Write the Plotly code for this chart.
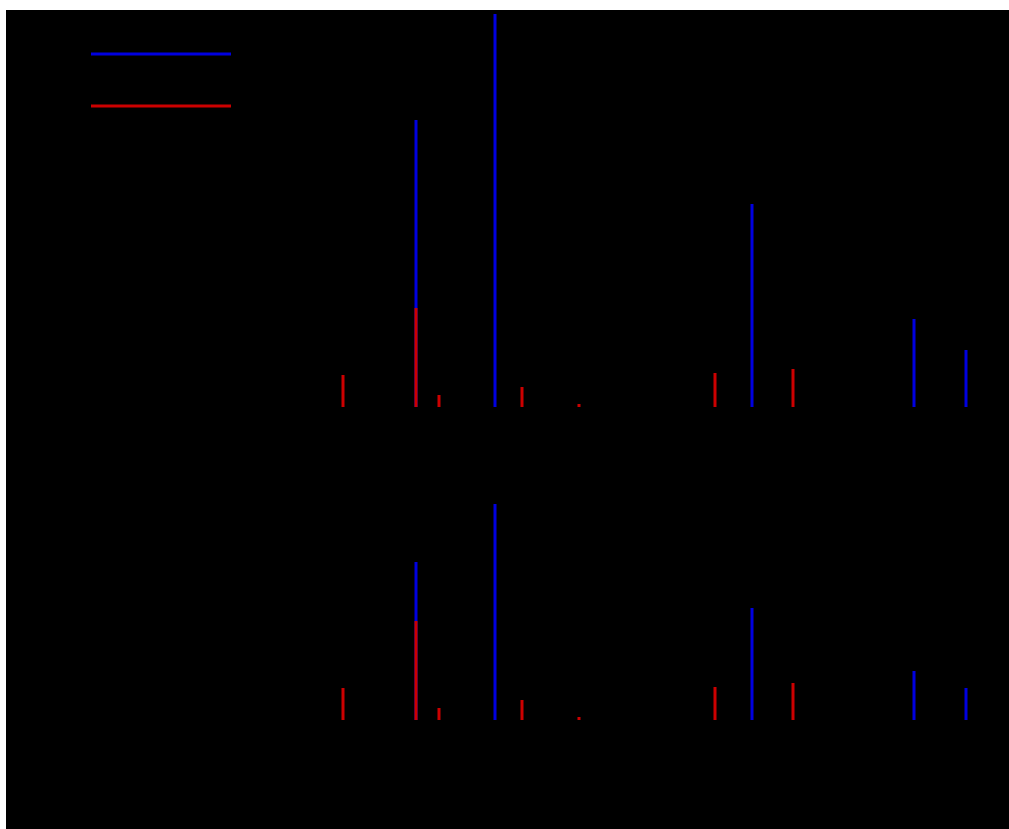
import plotly.graph_objects as go

# ---- data ----
# stick positions (arbitrary x units)
red_x = [337, 410, 433, 516, 573, 709, 787]
red_top = [32, 99, 12, 20, 3, 34, 38]
red_bottom = [32, 99, 12, 20, 3, 33, 37]

blue_x = [410, 489, 746, 908, 960]
blue_top = [287, 393, 203, 88, 57]
blue_bottom = [158, 216, 112, 49, 32]

BLUE = "#0000e0"
RED = "#cc0000"

def sticks(xs, ys):
    px, py = [], []
    for x, y in zip(xs, ys):
        px += [x, x, None]
        py += [0, y, None]
    return px, py

fig = go.Figure()

for (xs, ys, col, ax) in [
    (blue_x, blue_top, BLUE, ("x", "y")),
    (red_x, red_top, RED, ("x", "y")),
    (blue_x, blue_bottom, BLUE, ("x2", "y2")),
    (red_x, red_bottom, RED, ("x2", "y2")),
]:
    sx, sy = sticks(xs, ys)
    fig.add_trace(go.Scatter(x=sx, y=sy, mode="lines", xaxis=ax[0], yaxis=ax[1],
                             line=dict(color=col, width=3), showlegend=False,
                             hoverinfo="skip", cliponaxis=True))

axis_common = dict(showgrid=False, zeroline=False, showline=False, ticks="",
                   showticklabels=False, tickfont=dict(color="black"))

fig.update_layout(
    width=1009, height=829,
    margin=dict(l=6, r=0, t=10, b=0),
    paper_bgcolor="white",
    plot_bgcolor="black",
    showlegend=False,
    xaxis=dict(domain=[0, 1], range=[0, 1003], anchor="y", **axis_common),
    yaxis=dict(domain=[422 / 819, 1], range=[0, 397], anchor="x", **axis_common),
    xaxis2=dict(domain=[0, 1], range=[0, 1003], anchor="y2", **axis_common),
    yaxis2=dict(domain=[109 / 819, 345 / 819], range=[0, 236], anchor="x2", **axis_common),
    shapes=[
        dict(type="rect", xref="paper", yref="paper", x0=0, x1=1, y0=0, y1=1,
             fillcolor="black", line=dict(width=0), layer="below"),
        dict(type="line", xref="paper", yref="paper",
             x0=85 / 1003, x1=225 / 1003, y0=775 / 819, y1=775 / 819,
             line=dict(color=BLUE, width=3)),
        dict(type="line", xref="paper", yref="paper",
             x0=85 / 1003, x1=225 / 1003, y0=723 / 819, y1=723 / 819,
             line=dict(color=RED, width=3)),
    ],
)

fig.write_html("out.html")
